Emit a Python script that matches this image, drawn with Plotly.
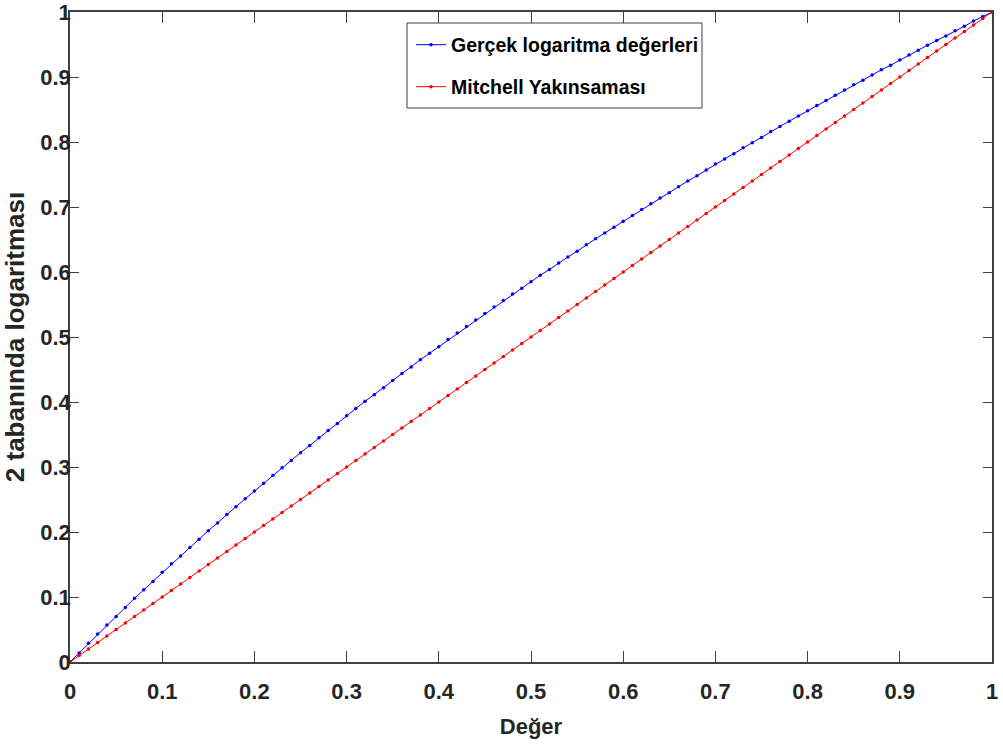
import plotly.graph_objects as go

x_values = [0.00, 0.01, 0.02, 0.03, 0.04, 0.05, 0.06, 0.07, 0.08, 0.09,
            0.10, 0.11, 0.12, 0.13, 0.14, 0.15, 0.16, 0.17, 0.18, 0.19,
            0.20, 0.21, 0.22, 0.23, 0.24, 0.25, 0.26, 0.27, 0.28, 0.29,
            0.30, 0.31, 0.32, 0.33, 0.34, 0.35, 0.36, 0.37, 0.38, 0.39,
            0.40, 0.41, 0.42, 0.43, 0.44, 0.45, 0.46, 0.47, 0.48, 0.49,
            0.50, 0.51, 0.52, 0.53, 0.54, 0.55, 0.56, 0.57, 0.58, 0.59,
            0.60, 0.61, 0.62, 0.63, 0.64, 0.65, 0.66, 0.67, 0.68, 0.69,
            0.70, 0.71, 0.72, 0.73, 0.74, 0.75, 0.76, 0.77, 0.78, 0.79,
            0.80, 0.81, 0.82, 0.83, 0.84, 0.85, 0.86, 0.87, 0.88, 0.89,
            0.90, 0.91, 0.92, 0.93, 0.94, 0.95, 0.96, 0.97, 0.98, 0.99,
            1.00]

gercek_values = [0.000, 0.014, 0.029, 0.043, 0.057, 0.070, 0.084, 0.098, 0.111, 0.124,
                 0.138, 0.151, 0.163, 0.176, 0.189, 0.202, 0.214, 0.227, 0.239, 0.251,
                 0.263, 0.275, 0.287, 0.299, 0.310, 0.322, 0.333, 0.345, 0.356, 0.367,
                 0.379, 0.390, 0.401, 0.411, 0.422, 0.433, 0.444, 0.454, 0.465, 0.475,
                 0.485, 0.496, 0.506, 0.516, 0.526, 0.536, 0.546, 0.556, 0.566, 0.575,
                 0.585, 0.595, 0.604, 0.614, 0.623, 0.632, 0.642, 0.651, 0.660, 0.669,
                 0.678, 0.687, 0.696, 0.705, 0.714, 0.722, 0.731, 0.740, 0.748, 0.757,
                 0.766, 0.774, 0.782, 0.791, 0.799, 0.807, 0.816, 0.824, 0.832, 0.840,
                 0.848, 0.856, 0.864, 0.872, 0.880, 0.888, 0.895, 0.903, 0.911, 0.918,
                 0.926, 0.934, 0.941, 0.949, 0.956, 0.963, 0.971, 0.978, 0.986, 0.993,
                 1.000]

mitchell_values = [0.00, 0.01, 0.02, 0.03, 0.04, 0.05, 0.06, 0.07, 0.08, 0.09,
                   0.10, 0.11, 0.12, 0.13, 0.14, 0.15, 0.16, 0.17, 0.18, 0.19,
                   0.20, 0.21, 0.22, 0.23, 0.24, 0.25, 0.26, 0.27, 0.28, 0.29,
                   0.30, 0.31, 0.32, 0.33, 0.34, 0.35, 0.36, 0.37, 0.38, 0.39,
                   0.40, 0.41, 0.42, 0.43, 0.44, 0.45, 0.46, 0.47, 0.48, 0.49,
                   0.50, 0.51, 0.52, 0.53, 0.54, 0.55, 0.56, 0.57, 0.58, 0.59,
                   0.60, 0.61, 0.62, 0.63, 0.64, 0.65, 0.66, 0.67, 0.68, 0.69,
                   0.70, 0.71, 0.72, 0.73, 0.74, 0.75, 0.76, 0.77, 0.78, 0.79,
                   0.80, 0.81, 0.82, 0.83, 0.84, 0.85, 0.86, 0.87, 0.88, 0.89,
                   0.90, 0.91, 0.92, 0.93, 0.94, 0.95, 0.96, 0.97, 0.98, 0.99,
                   1.00]

tick_values = [0, 0.1, 0.2, 0.3, 0.4, 0.5, 0.6, 0.7, 0.8, 0.9, 1]
tick_labels = ["0", "0.1", "0.2", "0.3", "0.4", "0.5", "0.6", "0.7", "0.8", "0.9", "1"]

series_names = ["Gerçek logaritma değerleri", "Mitchell Yakınsaması"]
x_title = "Değer"
y_title = "2 tabanında logaritması"

FONT = "Liberation Sans, Arial, Helvetica, sans-serif"
AXIS_COLOR = "#404040"
TEXT_COLOR = "#262626"

# plot area in pixels: left 70, right 992, top 12, bottom 662
PW, PH = 922, 650

fig = go.Figure()
fig.add_trace(go.Scatter(
    x=x_values, y=gercek_values, name=series_names[0], mode="lines+markers",
    line=dict(color="rgb(0,0,255)", width=1),
    marker=dict(color="rgb(0,0,255)", size=3.5, symbol="circle"),
    cliponaxis=False, legend="legend",
))
fig.add_trace(go.Scatter(
    x=x_values, y=mitchell_values, name=series_names[1], mode="lines+markers",
    line=dict(color="rgb(255,0,0)", width=1),
    marker=dict(color="rgb(255,0,0)", size=3.5, symbol="circle"),
    cliponaxis=False, legend="legend2",
))

axis_common = dict(
    range=[0, 1], tickmode="array", tickvals=tick_values, ticktext=tick_labels,
    showgrid=False, zeroline=False, showline=True, linecolor=AXIS_COLOR,
    linewidth=1.5, mirror="ticks", ticks="inside", tickcolor=AXIS_COLOR,
    tickwidth=1.2, automargin=False, ticklabeloverflow="allow",
    tickfont=dict(family=FONT, size=22, color=TEXT_COLOR, weight="bold"),
)

legend_common = dict(
    xanchor="left", yanchor="middle", bgcolor="rgba(0,0,0,0)", borderwidth=0,
    font=dict(family=FONT, size=19.5, color="black", weight="bold"),
    x=(411 - 70) / PW,
)

fig.update_layout(
    width=1003, height=744,
    margin=dict(l=70, r=11, t=12, b=82),
    paper_bgcolor="white", plot_bgcolor="white",
    xaxis=dict(**axis_common, ticklen=11, ticklabelstandoff=9,
               title=dict(text=x_title, standoff=15,
                          font=dict(family=FONT, size=22, color=TEXT_COLOR, weight="bold"))),
    yaxis=dict(**axis_common, ticklen=9, ticklabelstandoff=-7,
               title=dict(text=y_title, standoff=11,
                          font=dict(family=FONT, size=26, color=TEXT_COLOR, weight="bold"))),
    legend=dict(**legend_common, y=(662 - 45) / PH),
    legend2=dict(**legend_common, y=(662 - 87) / PH),
    shapes=[dict(type="rect", xref="paper", yref="paper",
                 x0=(407 - 70) / PW, x1=(702 - 70) / PW,
                 y0=(662 - 108) / PH, y1=(662 - 23) / PH,
                 line=dict(color=AXIS_COLOR, width=1), fillcolor="white",
                 layer="below")],
    showlegend=True,
)

fig.write_html("out.html")
